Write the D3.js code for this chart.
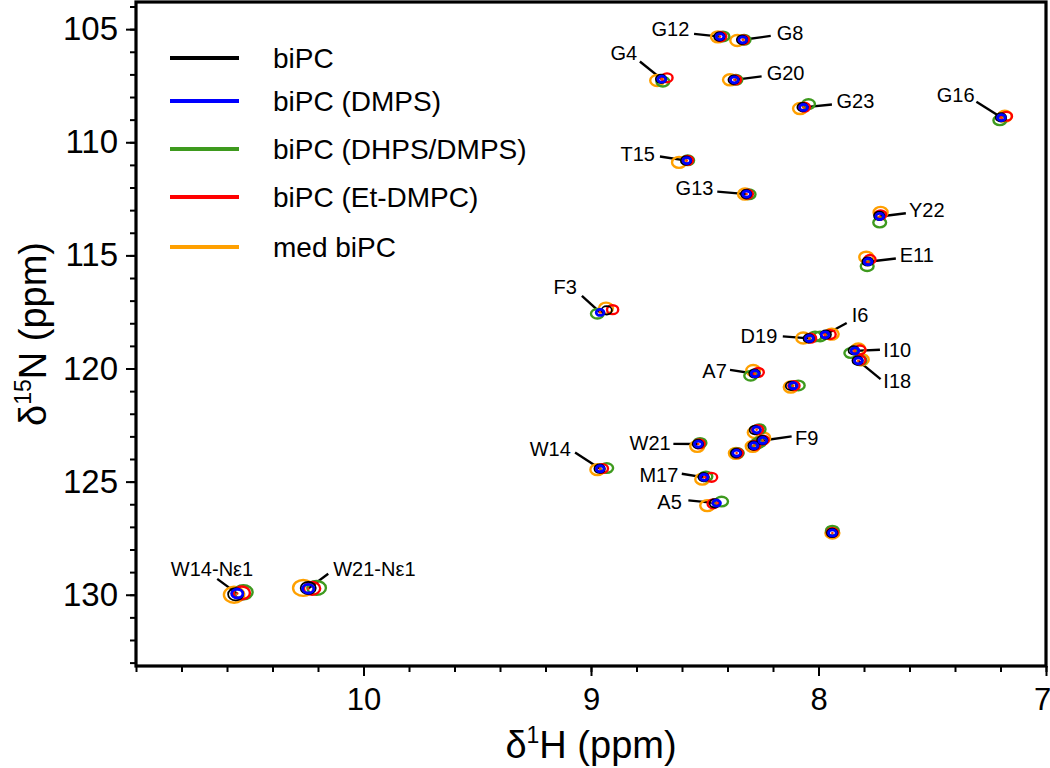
<!DOCTYPE html>
<html><head><meta charset="utf-8">
<script src="https://cdn.jsdelivr.net/npm/d3@7"></script>
<style>body{margin:0;background:#fff} svg{display:block;font-family:"Liberation Sans",Arial,sans-serif}</style>
</head><body><svg id="c" width="1050" height="768"></svg>
<script>
// ---- data ----
const peakIds = ["G12","G8","G4","G20","G23","T15","G13","G16","Y22","E11","F3","D19","I6","I10","I18","A7","U1","W14","W21","U2","F9","U3","U4","M17","A5","U5","W14-Nε1","W21-Nε1"];
// [1H ppm, 15N ppm] per peak, same order as peakIds
const biPC = [[8.436,105.33],[8.336,105.47],[8.692,107.20],[8.373,107.24],[8.070,108.45],[8.582,110.81],[8.318,112.29],[7.198,108.90],[7.733,113.25],[7.784,115.27],[8.931,117.43],[8.043,118.67],[7.968,118.50],[7.845,119.20],[7.828,119.65],[8.281,120.22],[8.121,120.77],[8.962,124.43],[8.530,123.34],[8.280,122.72],[8.247,123.17],[8.286,123.41],[8.362,123.74],[8.505,124.80],[8.456,125.96],[7.940,127.27],[10.562,129.98],[10.243,129.70]];
const biPC_DMPS = [[8.433,105.33],[8.333,105.47],[8.689,107.21],[8.370,107.24],[8.066,108.46],[8.579,110.81],[8.316,112.29],[7.196,108.91],[7.731,113.28],[7.782,115.28],[8.960,117.52],[8.040,118.67],[7.971,118.51],[7.840,119.22],[7.825,119.66],[8.279,120.23],[8.111,120.76],[8.960,124.43],[8.528,123.34],[8.272,122.71],[8.245,123.18],[8.284,123.41],[8.360,123.74],[8.503,124.81],[8.448,125.95],[7.939,127.27],[10.555,129.95],[10.243,129.73]];
const biPC_DHPS_DMPS = [[8.420,105.32],[8.327,105.47],[8.684,107.32],[8.363,107.24],[8.044,108.31],[8.575,110.80],[8.305,112.30],[7.203,109.03],[7.731,113.55],[7.786,115.48],[8.972,117.58],[8.015,118.58],[7.993,118.58],[7.858,119.32],[7.818,119.64],[8.298,120.32],[8.089,120.75],[8.931,124.40],[8.521,123.29],[8.261,122.68],[8.257,123.24],[8.270,123.32],[8.357,123.74],[8.495,124.77],[8.426,125.88],[7.939,127.17],[10.528,129.89],[10.206,129.70]];
const biPC_EtDMPC = [[8.430,105.33],[8.330,105.47],[8.666,107.15],[8.365,107.24],[8.062,108.45],[8.576,110.80],[8.313,112.29],[7.174,108.85],[7.727,113.21],[7.774,115.18],[8.905,117.40],[8.035,118.66],[7.949,118.50],[7.818,119.18],[7.818,119.63],[8.265,120.17],[8.108,120.76],[8.950,124.42],[8.525,123.33],[8.268,122.70],[8.243,123.16],[8.281,123.40],[8.357,123.74],[8.470,124.81],[8.463,125.98],[7.939,127.25],[10.535,129.92],[10.226,129.72]];
const medBiPC = [[8.442,105.34],[8.357,105.50],[8.709,107.27],[8.389,107.24],[8.081,108.51],[8.613,110.89],[8.323,112.29],[7.181,108.85],[7.727,113.10],[7.790,115.08],[8.934,117.33],[8.067,118.65],[7.942,118.48],[7.825,119.14],[7.810,119.61],[8.287,120.09],[8.122,120.82],[8.972,124.47],[8.533,123.44],[8.280,122.83],[8.243,123.07],[8.289,123.44],[8.363,123.75],[8.511,124.89],[8.489,126.06],[7.939,127.27],[10.569,130.00],[10.265,129.70]];

const seriesNames = ["biPC","biPC (DMPS)","biPC (DHPS/DMPS)","biPC (Et-DMPC)","med biPC"];

// residue labels: text, text position [H,N], anchor, leader start [H,N], peak it points to
const labelText = ["G12","G8","G4","G20","G23","G16","T15","G13","Y22","E11","F3","D19","I6","I10","I18","A7","W14","W21","F9","M17","A5","W14-Nε1","W21-Nε1"];
const labelPos = [[8.568,105.00],[8.184,105.18],[8.856,106.03],[8.228,106.94],[7.921,108.17],[7.314,107.91],[8.719,110.51],[8.462,112.03],[7.602,112.99],[7.643,114.96],[9.062,116.39],[8.181,118.55],[7.854,117.62],[7.715,119.17],[7.715,120.53],[8.403,120.10],[9.089,123.56],[8.650,123.29],[8.103,123.07],[8.616,124.70],[8.601,125.87],[10.666,128.86],[10.133,128.86]];
const labelAnchor = ["end","start","middle","start","start","end","end","end","start","start","end","end","start","start","start","end","end","end","start","end","end","middle","start"];
const leaderStart = [[8.547,105.21],[8.210,105.30],[8.785,106.43],[8.250,107.09],[7.941,108.33],[7.306,108.21],[8.697,110.63],[8.445,112.18],[7.616,113.14],[7.660,115.14],[9.040,116.79],[8.157,118.58],[7.876,117.99],[7.730,119.17],[7.727,120.47],[8.389,120.06],[9.070,123.71],[8.638,123.33],[8.118,123.00],[8.601,124.65],[8.572,125.83],[10.643,129.30],[10.155,129.07]];

const xTicks = [10,9,8,7];
const yTicks = [105,110,115,120,125,130];

// ---- drawing ----
const svg = d3.select("#c");
const L=136, R=1046, T=2, B=666;
const x = d3.scaleLinear().domain([11,7]).range([L,R]);
const y = d3.scaleLinear().domain([103.8,133.15]).range([T,B]);

const colors = {"biPC":"#000000","biPC (DMPS)":"#0000ff","biPC (DHPS/DMPS)":"#3e9a1e","biPC (Et-DMPC)":"#ff0000","med biPC":"#ffa000"};
const seriesData = {"biPC":biPC,"biPC (DMPS)":biPC_DMPS,"biPC (DHPS/DMPS)":biPC_DHPS_DMPS,"biPC (Et-DMPC)":biPC_EtDMPC,"med biPC":medBiPC};
// contour appearance per series (drawing order bottom->top)
const contourStyle = [
  {s:"med biPC", rx:7, ry:5.5, w:2.4},
  {s:"biPC (DHPS/DMPS)", rx:6.4, ry:4.8, w:2.4},
  {s:"biPC (Et-DMPC)", rx:5.6, ry:4.4, w:2.4},
  {s:"biPC", rx:5.2, ry:4.2, w:1.8},
  {s:"biPC (DMPS)", rx:3.9, ry:3.0, w:2.8}
];
const bigPeak = {"W14-Nε1":1.45,"W21-Nε1":1.45};

// axes (ticks only)
const gx = svg.append("g").attr("transform",`translate(0,${B})`);
gx.call(d3.axisBottom(x).tickValues(d3.range(7,11.01,0.2)).tickSize(6).tickFormat(""));
gx.call(g=>g.select(".domain").remove());
const gx2 = svg.append("g").attr("transform",`translate(0,${B})`)
  .call(d3.axisBottom(x).tickValues(xTicks).tickSize(10).tickPadding(12).tickFormat(d3.format("d")));
gx2.select(".domain").remove();
gx2.selectAll("text").attr("font-size",31).attr("fill","#000")
  .attr("dx",d=>d===7?-4:0);

const gy = svg.append("g").attr("transform",`translate(${L},0)`)
  .call(d3.axisLeft(y).tickValues(d3.range(104,134,1)).tickSize(6).tickFormat(""));
gy.select(".domain").remove();
const gy2 = svg.append("g").attr("transform",`translate(${L},0)`)
  .call(d3.axisLeft(y).tickValues(yTicks).tickSize(10).tickPadding(8).tickFormat(d3.format("d")));
gy2.select(".domain").remove();
gy2.selectAll("text").attr("font-size",33).attr("fill","#000");
svg.selectAll("g.tick line").attr("stroke-width",2);

// frame
svg.append("rect").attr("x",L).attr("y",T).attr("width",R-L).attr("height",B-T)
  .attr("fill","none").attr("stroke","#000").attr("stroke-width",3.2);

// axis titles
const xt = svg.append("text").attr("x",(L+R)/2).attr("y",758).attr("text-anchor","middle").attr("font-size",38);
xt.append("tspan").text("δ");
xt.append("tspan").text("1").attr("font-size",23).attr("dy",-15);
xt.append("tspan").text("H (ppm)").attr("dy",15);

const yt = svg.append("text").attr("transform",`translate(46,${(T+B)/2}) rotate(-90)`).attr("text-anchor","middle").attr("font-size",38);
yt.append("tspan").text("δ");
yt.append("tspan").text("15").attr("font-size",23).attr("dy",-15);
yt.append("tspan").text("N (ppm)").attr("dy",15);

// leader lines
const plot = svg.append("g");
labelText.forEach((t,i)=>{
  const pi = peakIds.indexOf(t);
  const end = biPC_DMPS[pi];
  plot.append("line")
    .attr("x1",x(leaderStart[i][0])).attr("y1",y(leaderStart[i][1]))
    .attr("x2",x(end[0])).attr("y2",y(end[1]))
    .attr("stroke","#000").attr("stroke-width",2.4);
});

// peaks
contourStyle.forEach(cs=>{
  const data = seriesData[cs.s];
  plot.append("g").selectAll("ellipse").data(data).join("ellipse")
    .attr("cx",d=>x(d[0])).attr("cy",d=>y(d[1]))
    .attr("rx",(d,i)=>cs.rx*(bigPeak[peakIds[i]]||1))
    .attr("ry",(d,i)=>cs.ry*(bigPeak[peakIds[i]]||1))
    .attr("fill","none").attr("stroke",colors[cs.s]).attr("stroke-width",cs.w);
});
// peak centres (innermost contour)
plot.append("g").selectAll("circle").data(biPC_DMPS).join("circle")
  .attr("cx",d=>x(d[0])).attr("cy",d=>y(d[1])).attr("r",1.3).attr("fill","#ff3b00");

// labels
labelText.forEach((t,i)=>{
  plot.append("text").attr("x",x(labelPos[i][0])).attr("y",y(labelPos[i][1]))
    .attr("dy","0.36em").attr("text-anchor",labelAnchor[i]).attr("font-size",20).text(t);
});

// legend
const leg = svg.append("g");
seriesNames.forEach((s,i)=>{
  const ly = [58,101,149,197,247][i];
  leg.append("line").attr("x1",170).attr("x2",239).attr("y1",ly).attr("y2",ly)
    .attr("stroke",colors[s]).attr("stroke-width",4);
  leg.append("text").attr("x",273).attr("y",ly).attr("dy","0.36em").attr("font-size",28).text(s);
});
</script></body></html>
